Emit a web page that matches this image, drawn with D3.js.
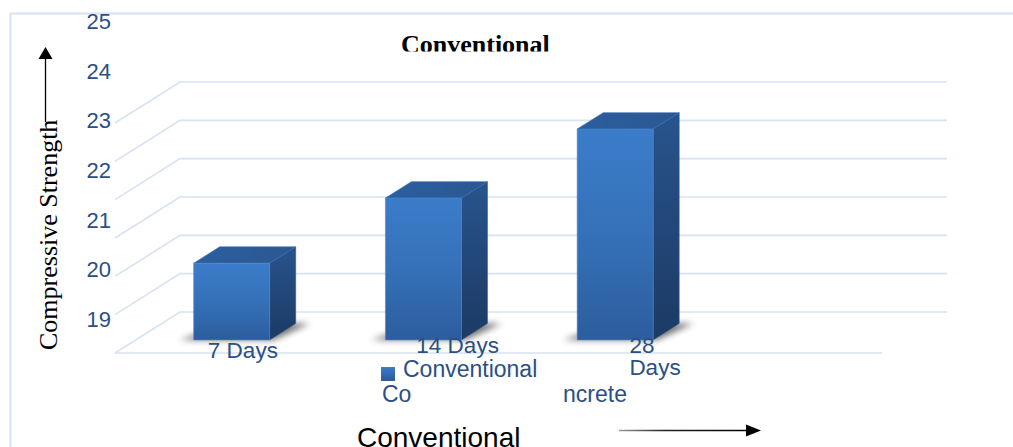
<!DOCTYPE html>
<html>
<head>
<meta charset="utf-8">
<script src="https://cdn.jsdelivr.net/npm/d3@7"></script>
<style>
html,body{margin:0;padding:0;background:#fff;overflow:hidden;}
svg{display:block;}
</style>
</head>
<body>
<svg id="chart" width="1013" height="447"></svg>
<script>
// ---- data ----
const categories = ["7 Days", "14 Days", "28 Days"];
const seriesName = "Conventional Concrete";
const values = [20.0, 21.7, 23.5];
const gridValues = [18, 19, 20, 21, 22, 23, 24];
const tickLabels = [19, 20, 21, 22, 23, 24, 25];
const chartTitle = "Conventional";
const yTitle = "Compressive Strength";
const xTitle = "Conventional";

// ---- layout ----
const W = 1013, H = 447;
const floorX0 = 115, floorY0 = 353, plotW = 767;
const depth = [65, -41];
const tFront = 0.32, tBack = 0.72;
const gridColor = "#d7e2f2";
const labelColor = "#2b4f85";

const svg = d3.select("#chart");
const defs = svg.append("defs");

// gradients
function lin(id, x1, y1, x2, y2, stops, user) {
  const g = defs.append("linearGradient").attr("id", id)
    .attr("x1", x1).attr("y1", y1).attr("x2", x2).attr("y2", y2);
  if (user) g.attr("gradientUnits", "userSpaceOnUse");
  stops.forEach(s => g.append("stop").attr("offset", s[0]).attr("stop-color", s[1]));
}
lin("gFront", 0, 0, 0, 1, [[0, "#3b7cca"], [0.5, "#3571b8"], [1, "#2c5d9d"]]);
lin("gSide", 0, 0, 0, 1, [[0, "#28548d"], [1, "#1c3a64"]]);
lin("gTop", 0, 0, 1, 0, [[0, "#2c5e9e"], [1, "#2a5892"]]);
lin("gLeg", 0, 0, 0, 1, [[0, "#3d7cc8"], [1, "#2b5a98"]]);
lin("gArrow", 619, 0, 750, 0, [[0, "#9a9a9a"], [0.35, "#222"], [1, "#000"]], true);
defs.append("filter").attr("id", "blur").attr("x", "-50%").attr("y", "-50%").attr("width", "200%").attr("height", "200%")
  .append("feGaussianBlur").attr("stdDeviation", 3);
defs.append("clipPath").attr("id", "titleClip").append("rect")
  .attr("x", 0).attr("y", 0).attr("width", W).attr("height", 51.5);

// scales
const x = d3.scaleBand().domain(categories)
  .range([floorX0, floorX0 + plotW * 3 / 4]).paddingInner(0).paddingOuter(0);
const h = d3.scaleLinear().domain([18, 24]).range([0, 230]);
const yLab = d3.scaleLinear().domain([19, 25]).range([327, 29]);

function pt(xf, v, t) {
  return [xf + t * depth[0], floorY0 - h(v) + t * depth[1]];
}

// outer border
svg.append("path")
  .attr("d", `M10.5,${H} L10.5,13.5 L${W},13.5`)
  .attr("fill", "none").attr("stroke", gridColor).attr("stroke-width", 2);

// gridlines
const grid = svg.append("g").attr("fill", "none").attr("stroke", gridColor).attr("stroke-width", 1.6);
gridValues.forEach(v => {
  const a = pt(floorX0, v, 0), b = pt(floorX0, v, 1), c = pt(floorX0 + plotW, v, 1);
  grid.append("path").attr("d", `M${a} L${b} L${c}`);
  if (v === gridValues[0]) {
    const d = pt(floorX0 + plotW, v, 0);
    grid.append("path").attr("d", `M${a} L${d}`);
  }
});

// tick labels
svg.append("g").selectAll("text").data(tickLabels).join("text")
  .attr("x", 111).attr("y", d => yLab(d))
  .attr("text-anchor", "end")
  .attr("font-family", "Liberation Sans, Arial, sans-serif")
  .attr("font-size", 22).attr("fill", labelColor)
  .text(d => d);

// bars
const bw = 76;
const bars = svg.append("g");
values.forEach((v, i) => {
  const xl = x(categories[i]) + (x.bandwidth() - bw) / 2;
  const xr = xl + bw;
  // shadow
  const s1 = pt(xl - 14, 18, tFront), s2 = pt(xr + 4, 18, tFront),
        s3 = pt(xr + 14, 18, tBack), s4 = pt(xl + 10, 18, tBack);
  bars.append("polygon").attr("points", [s1, s2, s3, s4].join(" "))
    .attr("fill", "#444").attr("opacity", 0.75).attr("filter", "url(#blur)");
  const fbl = pt(xl, 18, tFront), fbr = pt(xr, 18, tFront),
        ftl = pt(xl, v, tFront), ftr = pt(xr, v, tFront);
  const btl = pt(xl, v, tBack), btr = pt(xr, v, tBack), bbr = pt(xr, 18, tBack);
  bars.append("polygon").attr("points", [fbr, ftr, btr, bbr].join(" "))
    .attr("fill", "url(#gSide)").attr("stroke", "#2a568e").attr("stroke-width", 0.6);
  bars.append("polygon").attr("points", [ftl, ftr, btr, btl].join(" "))
    .attr("fill", "url(#gTop)").attr("stroke", "#3a6fb0").attr("stroke-width", 0.6);
  bars.append("polygon").attr("points", [fbl, fbr, ftr, ftl].join(" "))
    .attr("fill", "url(#gFront)").attr("stroke", "#4a86cf").attr("stroke-width", 0.6);
});

// category labels (wrapped as in reference)
const catFont = "Liberation Sans, Arial, sans-serif";
const catG = svg.append("g").attr("font-family", catFont).attr("font-size", 22.5).attr("fill", labelColor);
const bc = categories.map(c => x(c) + x.bandwidth() / 2);
catG.append("text").attr("x", bc[0] + 32).attr("y", 358).attr("text-anchor", "middle").text(categories[0]);
catG.append("text").attr("x", bc[1] + 55).attr("y", 353).attr("text-anchor", "middle").text(categories[1]);
const p28 = categories[2].split(" ");
catG.append("text").attr("x", bc[2] + 35).attr("y", 353).text(p28[0]);
catG.append("text").attr("x", bc[2] + 35).attr("y", 375).text(p28[1]);

// legend (wrapped)
const leg = svg.append("g").attr("font-family", catFont).attr("font-size", 23).attr("fill", labelColor);
leg.append("rect").attr("x", 381).attr("y", 367).attr("width", 14).attr("height", 14).attr("fill", "url(#gLeg)");
const lw = seriesName.split(" ");
leg.append("text").attr("x", 403).attr("y", 377).text(lw[0]);
leg.append("text").attr("x", 382).attr("y", 402).text(lw[1].slice(0, 2));
leg.append("text").attr("x", 563).attr("y", 402).text(lw[1].slice(2));

// chart title (clipped)
svg.append("text").attr("clip-path", "url(#titleClip)")
  .attr("x", 401).attr("y", 52.5)
  .attr("font-family", "Liberation Serif, Times New Roman, serif")
  .attr("font-weight", "bold").attr("font-size", 26).attr("fill", "#000")
  .text(chartTitle);

// y-axis title + arrow
svg.append("text")
  .attr("transform", "translate(57,350) rotate(-90)")
  .attr("font-family", "Liberation Serif, Times New Roman, serif")
  .attr("font-size", 26).attr("fill", "#000")
  .text(yTitle);
svg.append("line").attr("x1", 45.5).attr("y1", 122).attr("x2", 45.5).attr("y2", 58)
  .attr("stroke", "#000").attr("stroke-width", 1.3);
svg.append("polygon").attr("points", "45.5,47 38.5,59 52.5,59").attr("fill", "#000");

// x-axis title + arrow
svg.append("text").attr("x", 357).attr("y", 447)
  .attr("font-family", catFont).attr("font-size", 28).attr("fill", "#000")
  .text(xTitle);
svg.append("line").attr("x1", 619).attr("y1", 430.5).attr("x2", 750).attr("y2", 430.5)
  .attr("stroke", "url(#gArrow)").attr("stroke-width", 1.3);
svg.append("polygon").attr("points", "761,430.5 746,424.5 746,436.5").attr("fill", "#000");
</script>
</body>
</html>
